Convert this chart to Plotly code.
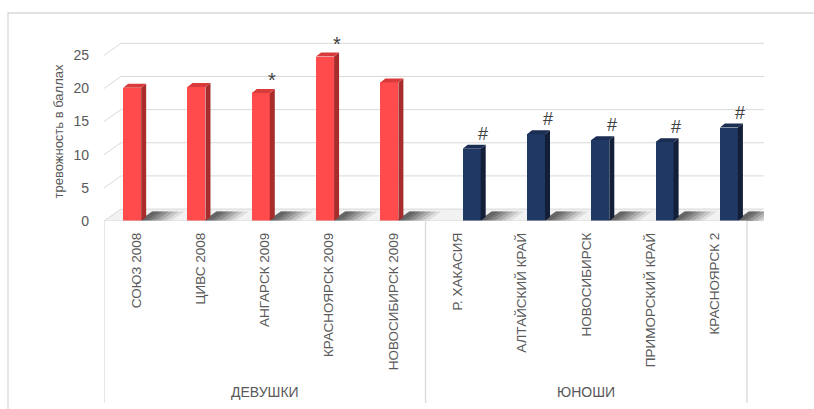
import plotly.graph_objects as go

# ---------------- data ----------------
group_names = ["ДЕВУШКИ", "ЮНОШИ"]
girls_labels = ["СОЮЗ 2008", "ЦИВС 2008", "АНГАРСК 2009", "КРАСНОЯРСК 2009", "НОВОСИБИРСК 2009"]
boys_labels = ["Р. ХАКАСИЯ", "АЛТАЙСКИЙ КРАЙ", "НОВОСИБИРСК", "ПРИМОРСКИЙ КРАЙ", "КРАСНОЯРСК 2"]
girls_values = [20.1, 20.2, 19.3, 24.8, 20.9]
boys_values = [10.9, 13.1, 12.2, 11.9, 14.1]
girls_marks = ["", "", "*", "*", ""]
boys_marks = ["#", "#", "#", "#", "#"]
y_ticks = [0, 5, 10, 15, 20, 25]
y_title = "тревожность в баллах"

# ---------------- style ----------------
W, H = 814, 409
ML, MR, MT, MB = 104, 50, 42, 188
YMAX = 27
n_g, n_b = len(girls_labels), len(boys_labels)
n = n_g + n_b
XMIN = -0.5
DXG = 0.264          # depth of back wall in x units
DYG = 1.8            # depth of back wall in y units
XMAX = n - 0.5 + DXG
BW = 0.28            # front width of a column
DX, DY = 0.078, 0.6  # column depth
RED, RED_SIDE, RED_TOP = "#FF4B4B", "#A82C2C", "#D93A3A"
BLUE, BLUE_SIDE, BLUE_TOP = "#203864", "#131F38", "#1A2D52"
GRID = "#D9D9D9"
TXT = "#595959"
FONT = "Liberation Sans Narrow, Liberation Sans, Arial, sans-serif"

plot_h = H - MT - MB
plot_w = W - ML - MR

girls_x = list(range(n_g))
boys_x = list(range(n_g, n))
girls_off = -0.062 - BW / 2
boys_off = 0.218 - BW / 2

fig = go.Figure()
shapes = []

# floor (below the traces)
shapes.append(dict(type="path", xref="x", yref="y", layer="below",
                   path=f"M {XMIN},0 L {n - 0.5},0 L {n - 0.5 + DXG},{DYG} L {XMIN + DXG},{DYG} Z",
                   fillcolor="#F2F2F2", line=dict(width=0)))

def add_series(xs, vals, off, front, side, top, marks):
    # shadows on the floor (stepped fade)
    for x, v in zip(xs, vals):
        xr = x + off + BW
        for length, op in [(0.46, 0.10), (0.38, 0.14), (0.30, 0.18), (0.22, 0.22), (0.14, 0.25), (0.07, 0.25)]:
            x0 = xr - 0.04
            x1 = xr + length
            shapes.append(dict(type="path", xref="x", yref="y", layer="below",
                               path=(f"M {x0},0 L {x1},0 L {x1 + DXG * 0.8},{DYG * 0.8} "
                                     f"L {x0 + DXG * 0.8},{DYG * 0.8} Z"),
                               fillcolor="#303030", opacity=op, line=dict(width=0)))
    # front faces
    fig.add_trace(go.Bar(x=xs, y=vals, width=BW, offset=off, marker=dict(color=front, line=dict(width=0)),
                         hoverinfo="skip", showlegend=False))
    # side + top faces
    for x, v, m in zip(xs, vals, marks):
        xl = x + off
        xr = xl + BW
        fig.add_trace(go.Scatter(
            x=[xr, xr + DX, xr + DX, xr, xr], y=[0, DY, v + DY, v, 0],
            mode="lines", fill="toself", fillcolor=side, line=dict(width=0),
            hoverinfo="skip", showlegend=False))
        fig.add_trace(go.Scatter(
            x=[xl, xr, xr + DX, xl + DX, xl], y=[v, v, v + DY, v + DY, v],
            mode="lines", fill="toself", fillcolor=top, line=dict(width=0),
            hoverinfo="skip", showlegend=False))
        if m:
            fig.add_annotation(x=xr + 0.04, y=v, text=m, showarrow=False, xanchor="center",
                               yanchor="bottom", yshift=3 if m == "#" else 0,
                               font=dict(size=18 if m == "#" else 20, color="#404040",
                                         family="Liberation Sans, Arial, sans-serif"))

add_series(girls_x, girls_values, girls_off, RED, RED_SIDE, RED_TOP, girls_marks)
add_series(boys_x, boys_values, boys_off, BLUE, BLUE_SIDE, BLUE_TOP, boys_marks)

# back-wall gridlines with side-wall diagonals
for t in y_ticks:
    shapes.append(dict(type="path", xref="x", yref="y", layer="below",
                       path=f"M {XMIN},{t} L {XMIN + DXG},{t + DYG} L {n - 0.5 + DXG},{t + DYG}",
                       line=dict(color=GRID, width=1)))
# front floor edge
shapes.append(dict(type="line", xref="x", yref="y", x0=XMIN, x1=n - 0.5, y0=0, y1=0,
                   line=dict(color=GRID, width=1)))
# category group dividers
div_bottom = -(H - 6 - (H - MB)) / plot_h
for xd in [XMIN, n_g - 0.5, n - 0.5]:
    shapes.append(dict(type="line", xref="x", yref="paper", x0=xd, x1=xd, y0=0, y1=div_bottom,
                       line=dict(color=GRID, width=1.3)))
# outer chart frame (left and top edges visible)
fx = (8 - ML) / plot_w
fy = (H - MB - 13) / plot_h
shapes.append(dict(type="path", xref="paper", yref="paper",
                   path=f"M {fx},{-2} L {fx},{fy} L {1.5},{fy}",
                   line=dict(color=GRID, width=1.3)))

# group labels
grp_y = -((H - 17) - (H - MB)) / plot_h
for gname, xs in zip(group_names, [girls_x, boys_x]):
    fig.add_annotation(x=(xs[0] + xs[-1]) / 2, y=grp_y, xref="x", yref="paper", text=gname,
                       showarrow=False, yanchor="middle",
                       font=dict(size=14, color=TXT, family=FONT))

fig.update_layout(
    width=W, height=H,
    margin=dict(l=ML, r=MR, t=MT, b=MB),
    paper_bgcolor="white", plot_bgcolor="white",
    bargap=0, showlegend=False,
    shapes=shapes,
    font=dict(family=FONT, color=TXT, size=12),
)
fig.update_xaxes(range=[XMIN, XMAX], tickmode="array", tickvals=girls_x + boys_x,
                 ticktext=girls_labels + boys_labels, tickangle=-90, showgrid=False,
                 zeroline=False, showline=False, ticks="", ticklabelstandoff=8,
                 tickfont=dict(size=13.5, color=TXT, family=FONT))
fig.update_yaxes(range=[0, YMAX], tickmode="array", tickvals=y_ticks, showgrid=False,
                 zeroline=False, showline=False, ticks="", ticklabelstandoff=14,
                 tickfont=dict(size=14, color=TXT, family=FONT),
                 title=dict(text=y_title, standoff=6, font=dict(size=13, color=TXT, family=FONT)))

fig.write_html("out.html", config={"displayModeBar": False},
               post_script="document.body.style.margin='0';")
